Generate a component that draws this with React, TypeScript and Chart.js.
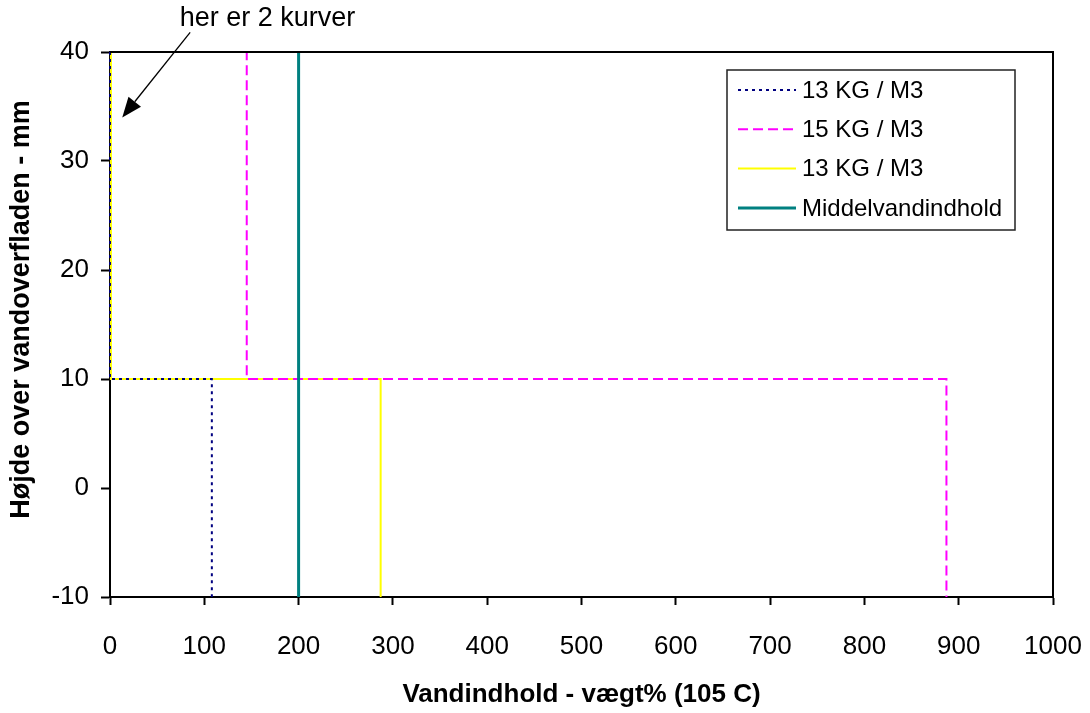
import React, { useEffect, useRef } from "react";
import { Chart, registerables } from "chart.js";

Chart.register(...registerables);

// ---- data ----
const xTicks = [0, 100, 200, 300, 400, 500, 600, 700, 800, 900, 1000];
const yTicks = [-10, 0, 10, 20, 30, 40];

const navyX = [0, 0, 108, 108];
const navyY = [40, 10, 10, -10];

const magentaX = [0, 145, 145, 887, 887];
const magentaY = [40, 40, 10, 10, -10];

const yellowX = [1, 1, 287, 287];
const yellowY = [40, 10, 10, -10];

const tealX = [200, 200];
const tealY = [-10, 40];

const seriesLabels = ["13 KG / M3", "15 KG / M3", "13 KG / M3", "Middelvandindhold"];

const xTitle = "Vandindhold - vægt% (105 C)";
const yTitle = "Højde over vandoverfladen - mm";

const noteText = "her er 2 kurver";
const noteTextPos = { x: 167, y: 43.1 };
const arrowFrom = { x: 85, y: 41.8 };
const arrowTo = { x: 13, y: 34.0 };

const FONT = "'Liberation Sans', Arial, sans-serif";

const pts = (xs: number[], ys: number[]) => xs.map((x, i) => ({ x, y: ys[i] }));

const legendStyles = [
  { color: "#000080", width: 2, dash: [3, 4] },
  { color: "#FF00FF", width: 2, dash: [10, 5] },
  { color: "#FFFF00", width: 2, dash: [] as number[] },
  { color: "#008080", width: 3, dash: [] as number[] },
];

const framePlugin = {
  id: "frame",
  afterDatasetsDraw(chart: any) {
    const { ctx, chartArea: a, scales } = chart;
    ctx.save();
    ctx.strokeStyle = "#000";
    ctx.lineWidth = 2;
    ctx.beginPath();
    ctx.moveTo(a.left, a.top);
    ctx.lineTo(a.right, a.top);
    ctx.lineTo(a.right, a.bottom);
    ctx.stroke();
    ctx.restore();

    // y axis title
    ctx.save();
    ctx.translate(22, a.top + (a.bottom - a.top) / 2 - 15);
    ctx.rotate(-Math.PI / 2);
    ctx.font = `bold 27px ${FONT}`;
    ctx.fillStyle = "#000";
    ctx.textAlign = "center";
    ctx.textBaseline = "middle";
    ctx.fillText(yTitle, 0, 0);
    ctx.restore();

    const xs = scales.x, ys = scales.y;
    ctx.save();
    ctx.fillStyle = "#000";
    ctx.font = `27px ${FONT}`;
    ctx.textAlign = "center";
    ctx.textBaseline = "middle";
    ctx.fillText(noteText, xs.getPixelForValue(noteTextPos.x), ys.getPixelForValue(noteTextPos.y));
    const x1 = xs.getPixelForValue(arrowFrom.x), y1 = ys.getPixelForValue(arrowFrom.y);
    const x2 = xs.getPixelForValue(arrowTo.x), y2 = ys.getPixelForValue(arrowTo.y);
    const ang = Math.atan2(y2 - y1, x2 - x1);
    const hl = 20, hw = 8;
    const bx = x2 - hl * Math.cos(ang), by = y2 - hl * Math.sin(ang);
    ctx.strokeStyle = "#000";
    ctx.lineWidth = 1.3;
    ctx.beginPath();
    ctx.moveTo(x1, y1);
    ctx.lineTo(bx, by);
    ctx.stroke();
    ctx.beginPath();
    ctx.moveTo(x2, y2);
    ctx.lineTo(bx + hw * Math.sin(ang), by - hw * Math.cos(ang));
    ctx.lineTo(bx - hw * Math.sin(ang), by + hw * Math.cos(ang));
    ctx.closePath();
    ctx.fill();
    ctx.restore();

    // legend
    const lx = 727, ly = 70, lw = 288, lh = 160;
    ctx.save();
    ctx.fillStyle = "#fff";
    ctx.fillRect(lx, ly, lw, lh);
    ctx.strokeStyle = "#222";
    ctx.lineWidth = 1.5;
    ctx.strokeRect(lx, ly, lw, lh);
    ctx.font = `24px ${FONT}`;
    ctx.textAlign = "left";
    ctx.textBaseline = "middle";
    seriesLabels.forEach((lab, i) => {
      const cy = 90 + i * 39.3;
      const st = legendStyles[i];
      ctx.strokeStyle = st.color;
      ctx.lineWidth = st.width;
      ctx.setLineDash(st.dash);
      ctx.beginPath();
      ctx.moveTo(738, cy);
      ctx.lineTo(796, cy);
      ctx.stroke();
      ctx.setLineDash([]);
      ctx.fillStyle = "#000";
      ctx.fillText(lab, 802, cy + 1);
    });
    ctx.restore();
  },
};

export default function App() {
  const ref = useRef<HTMLCanvasElement | null>(null);
  useEffect(() => {
    if (!ref.current) return;
    const chart = new Chart(ref.current, {
      type: "line",
      data: {
        datasets: [
          {
            label: seriesLabels[2],
            data: pts(yellowX, yellowY),
            borderColor: "#FFFF00",
            borderWidth: 2,
            pointRadius: 0,
            clip: false,
            order: 4,
          },
          {
            label: seriesLabels[0],
            data: pts(navyX, navyY),
            borderColor: "#000080",
            borderWidth: 2,
            borderDash: [3, 4],
            pointRadius: 0,
            clip: false,
            order: 3,
          },
          {
            label: seriesLabels[1],
            data: pts(magentaX, magentaY),
            borderColor: "#FF00FF",
            borderWidth: 2,
            borderDash: [10, 5],
            pointRadius: 0,
            clip: false,
            order: 2,
          },
          {
            label: seriesLabels[3],
            data: pts(tealX, tealY),
            borderColor: "#008080",
            borderWidth: 3,
            pointRadius: 0,
            clip: false,
            order: 1,
          },
        ] as any,
      },
      options: {
        responsive: false,
        animation: false,
        events: [],
        layout: { padding: { left: 0, top: 52, right: 37, bottom: 0 } },
        plugins: { legend: { display: false }, tooltip: { enabled: false } },
        scales: {
          x: {
            type: "linear",
            min: 0,
            max: 1000,
            afterFit: (s: any) => { s.height = 116; s.paddingRight = 0; s.paddingLeft = 0; },
            afterBuildTicks: (s: any) => { s.ticks = xTicks.map((v) => ({ value: v })); },
            ticks: {
              color: "#000",
              font: { family: FONT, size: 26 },
              padding: 26,
              maxRotation: 0,
              callback: (v: any) => String(v),
            },
            grid: { drawOnChartArea: false, color: "#000", tickLength: 8, tickWidth: 2 },
            border: { color: "#000", width: 2 },
            title: {
              display: true,
              text: xTitle,
              color: "#000",
              font: { family: FONT, size: 26, weight: "bold" },
              padding: { top: 0, bottom: 3 },
            },
          },
          y: {
            type: "linear",
            min: -10,
            max: 40,
            afterFit: (s: any) => { s.width = 110; s.paddingTop = 0; s.paddingBottom = 0; },
            afterBuildTicks: (s: any) => { s.ticks = yTicks.map((v) => ({ value: v })); },
            ticks: { color: "#000", font: { family: FONT, size: 26 }, padding: 12, callback: (v: any) => String(v) },
            grid: { drawOnChartArea: false, color: "#000", tickLength: 9, tickWidth: 2 },
            border: { color: "#000", width: 2 },
            title: { display: false, text: yTitle },
          },
        },
      },
      plugins: [framePlugin],
    } as any);
    return () => chart.destroy();
  }, []);
  return (
    <div style={{ position: "fixed", left: 0, top: 0, width: 1090, height: 713, background: "#fff" }}>
      <canvas ref={ref} width={1090} height={713} style={{ width: 1090, height: 713, display: "block" }} />
    </div>
  );
}
